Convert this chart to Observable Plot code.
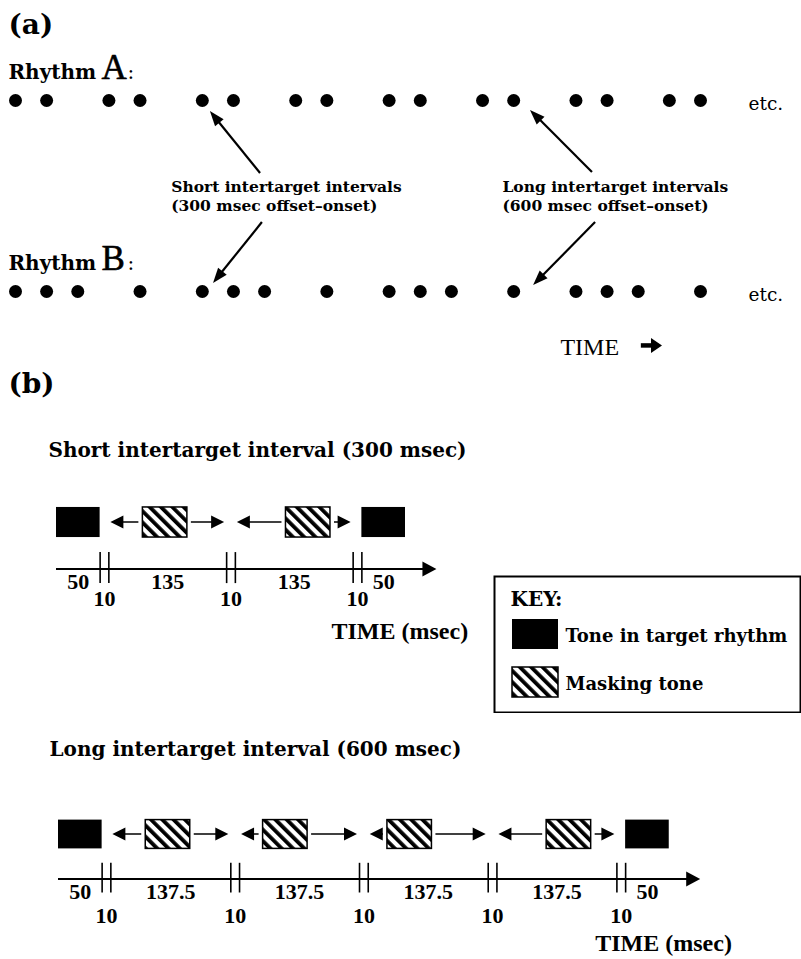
<!DOCTYPE html>
<html>
<head>
<meta charset="utf-8">
<script src="https://cdn.jsdelivr.net/npm/d3@7"></script>
<script src="https://cdn.jsdelivr.net/npm/@observablehq/plot@0.6"></script>
<style>
html, body { margin: 0; padding: 0; background: #fff; }
#page { position: relative; width: 801px; height: 959px; overflow: hidden; font-family: "DejaVu Serif"; }
#page > svg { position: absolute; margin: 0; }
</style>
</head>
<body>
<div id="page"></div>
<script>
// ---------------- data ----------------
// (a) rhythms: onset slots on a common time grid
const rhythmNames = ["A", "B"];
const rhythmA = [0, 1, 3, 4, 6, 7, 9, 10, 12, 13, 15, 16, 18, 19, 21, 22];
const rhythmB = [0, 1, 2, 4, 6, 7, 8, 10, 12, 13, 14, 16, 18, 19, 20, 22];
const noteLabels = [
  "Short intertarget intervals\n(300 msec offset–onset)",
  "Long intertarget intervals\n(600 msec offset–onset)"
];

// (b) timelines (msec)
const shortDurations = [50, 10, 135, 10, 135, 10, 50];
const shortKinds = ["tone", "gap", "interval", "gap", "interval", "gap", "tone"];
const shortMaskOnsets = [39, 58];          // msec after interval start
const longDurations = [50, 10, 137.5, 10, 137.5, 10, 137.5, 10, 137.5, 10, 50];
const longKinds = ["tone", "gap", "interval", "gap", "interval", "gap", "interval", "gap", "interval", "gap", "tone"];
const longMaskOnsets = [40, 27, 22, 57];
const maskDuration = 51;
const keyItems = ["Tone in target rhythm", "Masking tone"];

// ---------------- layout (diagram units) ----------------
const FONT = "DejaVu Serif";
const NUMFONT = "Liberation Serif";
const noteAnchors = [{x: 5.0, y: 0.58}, {x: 15.64, y: 0.58}];
const noteArrows = [
  {x1: 7.87, y1: 0.382, x2: 6.26, y2: 0.058},
  {x1: 7.93, y1: 0.639, x2: 6.36, y2: 0.958},
  {x1: 18.53, y1: 0.377, x2: 16.54, y2: 0.052},
  {x1: 18.63, y1: 0.639, x2: 16.64, y2: 0.969}
];

const page = document.getElementById("page");
function place(node, left, top) {
  node.style.left = left + "px";
  node.style.top = top + "px";
  page.appendChild(node);
}

// filled-head arrows, positioned through the plot's scales
function arrowMark(data, o) {
  return (index, scales) => {
    const g = d3.create("svg:g");
    for (const d of data) {
      let ax = scales.x(d.x1), ay = scales.y(d.y1), bx = scales.x(d.x2), by = scales.y(d.y2);
      const L = Math.hypot(bx - ax, by - ay) || 1, ux = (bx - ax) / L, uy = (by - ay) / L;
      const sg = o.startGap || 0, eg = o.endGap || 0;
      ax += ux * sg; ay += uy * sg; bx -= ux * eg; by -= uy * eg;
      const hl = o.headLength, hw = o.headWidth / 2;
      const cx = bx - ux * hl, cy = by - uy * hl;
      g.append("line").attr("x1", ax).attr("y1", ay).attr("x2", cx + ux).attr("y2", cy + uy)
        .attr("stroke", "black").attr("stroke-width", o.strokeWidth);
      g.append("path")
        .attr("d", `M${bx},${by}L${cx - uy * hw},${cy + ux * hw}L${cx + uy * hw},${cy - ux * hw}Z`)
        .attr("fill", "black");
    }
    return g.node();
  };
}

function hatchDefs(id) {
  return () => {
    const defs = d3.create("svg:defs");
    const p = defs.append("pattern").attr("id", id).attr("patternUnits", "userSpaceOnUse")
      .attr("width", 8).attr("height", 8).attr("patternTransform", "rotate(-45)");
    p.append("rect").attr("width", 8).attr("height", 8).attr("fill", "white");
    p.append("rect").attr("width", 3.8).attr("height", 8).attr("fill", "black");
    return defs.node();
  };
}

// ---------------- (a) ----------------
const rows = rhythmNames.map((name, row) => ({name, row}));
const rhythmDots = rows.flatMap(({name, row}) => (row === 0 ? rhythmA : rhythmB).map(slot => ({name, row, slot})));
const lastSlot = d3.max(rhythmDots, d => d.slot);
const notes = noteLabels.map((label, i) => ({label, ...noteAnchors[i]}));

const plotA = Plot.plot({
  width: 801, height: 370, margin: 0,
  style: {fontFamily: FONT, background: "transparent", color: "black"},
  x: {domain: [0, 22], range: [15, 700], axis: null},
  y: {domain: [0, 1], range: [100, 291], axis: null},
  marks: [
    Plot.text(["(a)"], {frameAnchor: "top-left", dx: 8, dy: 33, text: d => d, textAnchor: "start", lineAnchor: "bottom", fontSize: 28, fontWeight: "bold"}),
    Plot.text(rows, {y: "row", frameAnchor: "left", dx: 8, dy: -22, text: () => "Rhythm", textAnchor: "start", lineAnchor: "bottom", fontSize: 20, fontWeight: "bold"}),
    Plot.text(rows, {y: "row", frameAnchor: "left", dx: 101, dy: -22, text: "name", textAnchor: "start", lineAnchor: "bottom", fontSize: 35, fontFamily: NUMFONT, fill: "black", stroke: "black", strokeWidth: 0.6}),
    Plot.text(rows, {y: "row", frameAnchor: "left", dx: 127, dy: -22, text: () => ":", textAnchor: "start", lineAnchor: "bottom", fontSize: 20}),
    Plot.dot(rhythmDots, {x: "slot", y: "row", r: 6.5, fill: "black"}),
    Plot.text(rows, {x: () => lastSlot, y: "row", dx: 48, dy: 9, text: () => "etc.", textAnchor: "start", lineAnchor: "bottom", fontSize: 18.5}),
    Plot.text(notes, {x: "x", y: "y", text: "label", textAnchor: "start", lineAnchor: "bottom", lineHeight: 1.23, fontSize: 15.5, fontWeight: "bold"}),
    arrowMark(noteArrows, {strokeWidth: 2.2, headLength: 15, headWidth: 11}),
    Plot.text(["TIME"], {x: () => 17.5, y: () => 1.33, text: d => d, textAnchor: "start", lineAnchor: "bottom", fontSize: 24, fontFamily: NUMFONT}),
    arrowMark([{x1: 20.1, y1: 1.285, x2: 20.78, y2: 1.285}], {strokeWidth: 4.5, headLength: 11, headWidth: 15})
  ]
});
place(plotA, 0, 0);

// ---------------- (b) timelines ----------------
function timelinePlot(cfg) {
  const {durations, kinds, maskOnsets, hatchId, range, axisY, toneY, height, gapLabelDy, timeLabelDy, extra} = cfg;
  const ends = d3.cumsum(durations);
  const segments = durations.map((dur, i) => ({dur, kind: kinds[i], start: ends[i] - dur, end: ends[i], mid: ends[i] - dur / 2, label: String(dur)}));
  const total = d3.sum(durations);
  const intervals = segments.filter(s => s.kind === "interval");
  const maskers = intervals.map((s, i) => ({x1: s.start + maskOnsets[i], x2: s.start + maskOnsets[i] + maskDuration, s}));
  const maskArrows = maskers.flatMap(m => [
    {x1: m.x1, y1: 1, x2: m.s.start, y2: 1},
    {x1: m.x2, y1: 1, x2: m.s.end, y2: 1}
  ]);
  const tones = segments.filter(s => s.kind === "tone");
  const gaps = segments.filter(s => s.kind === "gap");
  const tickXs = gaps.flatMap(g => [g.start, g.end]);
  const spans = segments.filter(s => s.kind !== "gap");
  return Plot.plot({
    width: 801, height, margin: 0,
    style: {fontFamily: FONT, background: "transparent", color: "black"},
    x: {domain: [0, total], range, axis: null},
    y: {domain: [0, 1], range: [axisY, toneY], axis: null},
    marks: [
      hatchDefs(hatchId),
      ...extra,
      Plot.rect(tones, {x1: "start", x2: "end", y1: 0.68, y2: 1.32, fill: "black"}),
      Plot.rect(maskers, {x1: "x1", x2: "x2", y1: 0.68, y2: 1.32, fill: `url(#${hatchId})`, stroke: "black", strokeWidth: 1.5}),
      arrowMark(maskArrows, {strokeWidth: 1.5, headLength: 13, headWidth: 13, startGap: 4, endGap: 2}),
      arrowMark([{x1: 0, y1: 0, x2: total + 36, y2: 0}], {strokeWidth: 1.8, headLength: 14, headWidth: 15}),
      Plot.ruleX(tickXs, {x: d => d, y1: -0.3, y2: 0.36, stroke: "black", strokeWidth: 1.6}),
      Plot.text(spans, {x: "mid", y: () => 0, dy: 19, text: "label", lineAnchor: "bottom", fontSize: 22, fontWeight: "bold", fontFamily: NUMFONT}),
      Plot.text(gaps, {x: "mid", y: () => 0, dy: gapLabelDy, text: "label", lineAnchor: "bottom", fontSize: 22, fontWeight: "bold", fontFamily: NUMFONT}),
      Plot.text(["TIME (msec)"], {x: () => total, y: () => 0, dx: -74, dy: timeLabelDy, text: d => d, textAnchor: "start", lineAnchor: "bottom", fontSize: 24, fontWeight: "bold", fontFamily: NUMFONT})
    ]
  });
}

const shortPlot = timelinePlot({
  durations: shortDurations, kinds: shortKinds, maskOnsets: shortMaskOnsets, hatchId: "hatchS",
  range: [56, 405], axisY: 209, toneY: 162, height: 300, gapLabelDy: 36, timeLabelDy: 69,
  extra: [
    Plot.text(["(b)"], {frameAnchor: "top-left", dx: 8, dy: 32, text: d => d, textAnchor: "start", lineAnchor: "bottom", fontSize: 28, fontWeight: "bold"}),
    Plot.text(["Short intertarget interval (300 msec)"], {frameAnchor: "top-left", dx: 48, dy: 96, text: d => d, textAnchor: "start", lineAnchor: "bottom", fontSize: 20, fontWeight: "bold"})
  ]
});
place(shortPlot, 0, 360);

const longPlot = timelinePlot({
  durations: longDurations, kinds: longKinds, maskOnsets: longMaskOnsets, hatchId: "hatchL",
  range: [58, 668.75], axisY: 219, toneY: 174, height: 299, gapLabelDy: 43, timeLabelDy: 71,
  extra: [
    Plot.text(["Long intertarget interval (600 msec)"], {frameAnchor: "top-left", dx: 49, dy: 95, text: d => d, textAnchor: "start", lineAnchor: "bottom", fontSize: 20, fontWeight: "bold"})
  ]
});
place(longPlot, 0, 660);

// ---------------- key ----------------
const keyPlot = Plot.plot({
  width: 308, height: 138, margin: 0,
  style: {fontFamily: FONT, background: "white", color: "black"},
  x: {domain: [0, 1], range: [19, 65], axis: null},
  y: {type: "band", domain: keyItems, range: [44, 122], paddingInner: 0.375, paddingOuter: 0, axis: null},
  marks: [
    hatchDefs("hatchK"),
    Plot.frame({inset: 1, stroke: "black", strokeWidth: 2}),
    Plot.text(["KEY:"], {frameAnchor: "top-left", dx: 17, dy: 30, text: d => d, textAnchor: "start", lineAnchor: "bottom", fontSize: 20, fontWeight: "bold"}),
    Plot.barX([keyItems[0]], {x1: 0, x2: 1, y: d => d, fill: "black"}),
    Plot.barX([keyItems[1]], {x1: 0, x2: 1, y: d => d, fill: "url(#hatchK)", stroke: "black", strokeWidth: 1.5}),
    Plot.text(keyItems, {x: () => 1, y: d => d, dx: 7, dy: 2, text: d => d, textAnchor: "start", lineAnchor: "middle", fontSize: 18, fontWeight: "bold"})
  ]
});
place(keyPlot, 493, 575);
</script>
</body>
</html>
